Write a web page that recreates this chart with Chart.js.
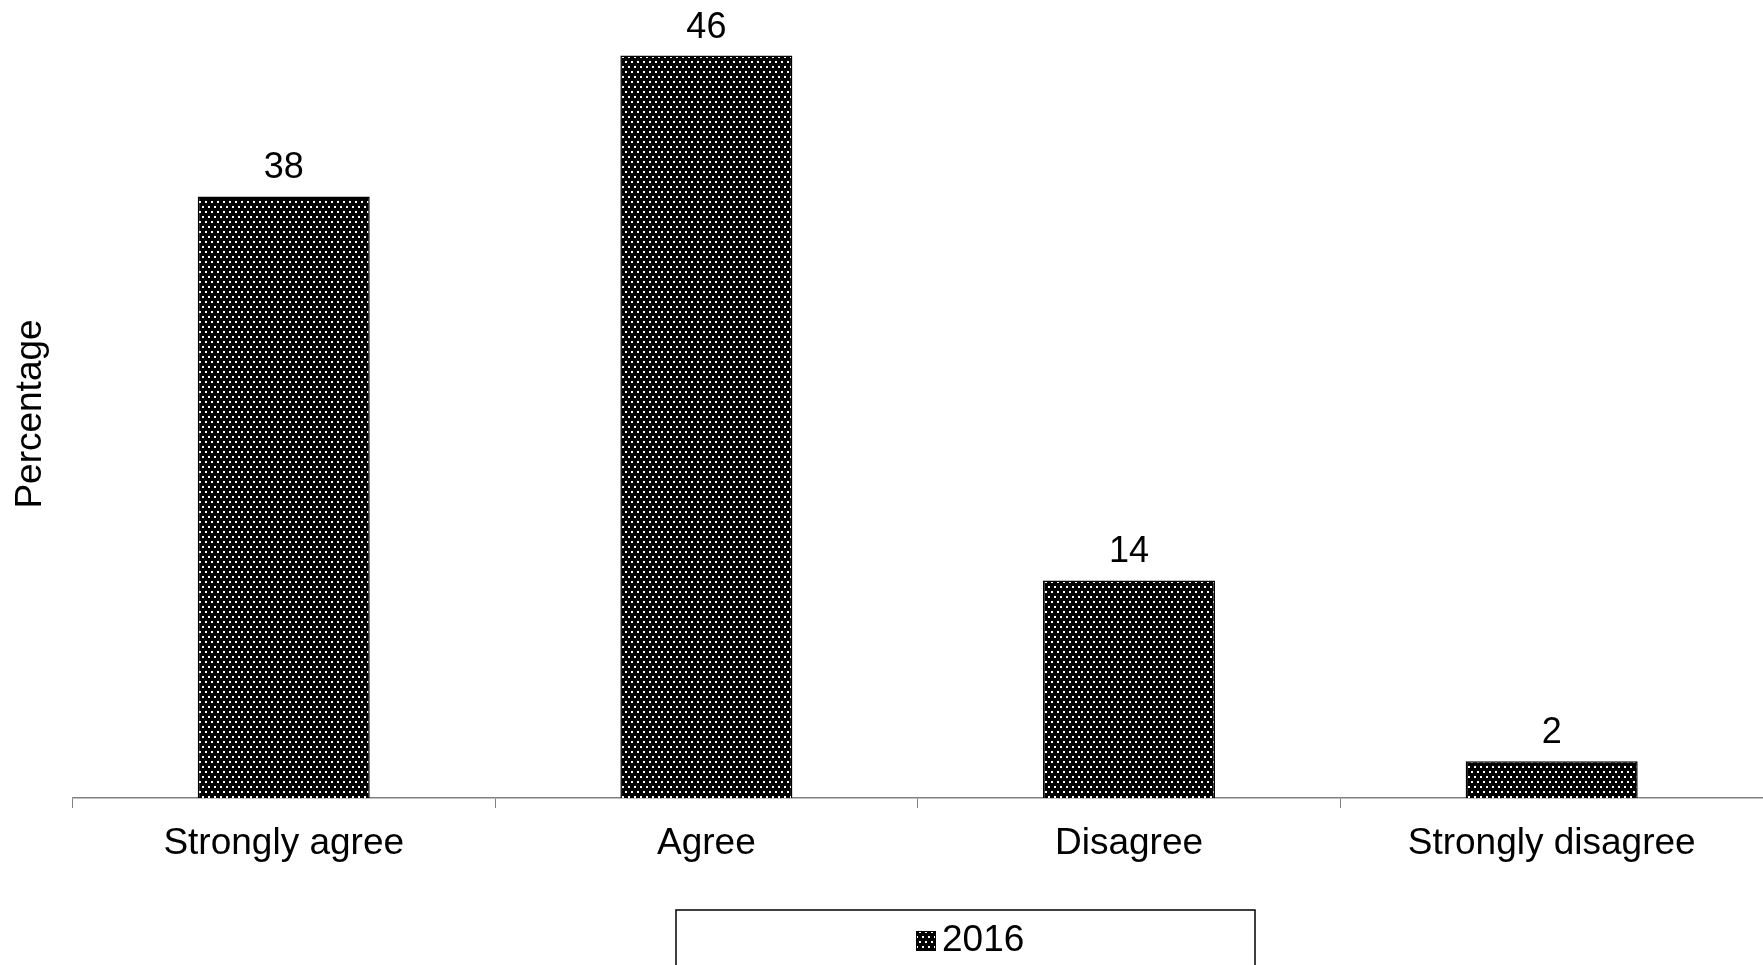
<!DOCTYPE html>
<html>
<head>
<meta charset="utf-8">
<script src="https://cdn.jsdelivr.net/npm/chart.js@4.4.0/dist/chart.umd.min.js"></script>
<style>
    html, body { margin: 0; padding: 0; background: #ffffff; }
    #wrap { width: 1763px; height: 965px; position: relative; }
</style>
</head>
<body>
<div id="wrap"><canvas id="chart"></canvas></div>
<script>
// Survey responses (percent), bar heights
const categories = ['Strongly agree', 'Agree', 'Disagree', 'Strongly disagree'];
const seriesName = '2016';
const values = [37.6, 46.4, 13.6, 2.3];
const axisTitle = 'Percentage';

const FONT = '"Liberation Sans", Arial, sans-serif';

// Black fill with small staggered white dots
function makeDotPattern() {
    const tile = document.createElement('canvas');
    tile.width = 6;
    tile.height = 10;
    const t = tile.getContext('2d');
    t.fillStyle = '#000000';
    t.fillRect(0, 0, 6, 10);
    t.fillStyle = '#ffffff';
    t.fillRect(1, 1, 2, 2);
    t.fillRect(4, 6, 2, 2);
    return t.createPattern(tile, 'repeat');
}

const dots = makeDotPattern();

// Rounded value labels above each bar
const valueLabels = {
    id: 'valueLabels',
    afterDatasetsDraw(chart) {
        const ctx = chart.ctx;
        const meta = chart.getDatasetMeta(0);
        ctx.save();
        ctx.font = '36px ' + FONT;
        ctx.fillStyle = '#000000';
        ctx.textAlign = 'center';
        ctx.textBaseline = 'middle';
        meta.data.forEach((bar, i) => {
            ctx.fillText(String(Math.round(values[i])), bar.x, bar.y - 28);
        });
        ctx.restore();
    }
};

// Legend drawn by hand: framed box under the axis
const boxedLegend = {
    id: 'boxedLegend',
    afterDraw(chart) {
        const ctx = chart.ctx;
        const ds = chart.data.datasets[0];
        ctx.save();
        ctx.strokeStyle = '#000000';
        ctx.lineWidth = 1.5;
        ctx.strokeRect(676, 910, 579, 80);

        ctx.fillStyle = ds.backgroundColor;
        ctx.fillRect(916, 931, 20, 20);
        ctx.lineWidth = 1;
        ctx.strokeRect(916.5, 931.5, 19, 19);

        ctx.font = '37px ' + FONT;
        ctx.fillStyle = '#000000';
        ctx.textAlign = 'left';
        ctx.textBaseline = 'middle';
        ctx.fillText(ds.label, 942, 941);
        ctx.restore();
    }
};

const ctx = document.getElementById('chart').getContext('2d');
const chart = new Chart(ctx, {
    type: 'bar',
    data: {
        labels: categories,
        datasets: [{
            label: seriesName,
            data: values,
            backgroundColor: dots,
            borderColor: '#000000',
            borderWidth: 1.5,
            categoryPercentage: 1,
            barPercentage: 0.407
        }]
    },
    options: {
        responsive: true,
        maintainAspectRatio: false,
        animation: false,
        layout: {
            padding: { top: 30, left: 9, right: 0, bottom: 56 }
        },
        plugins: {
            legend: { display: false },
            tooltip: { enabled: false }
        },
        scales: {
            x: {
                grid: {
                    offset: true,
                    drawOnChartArea: false,
                    drawTicks: true,
                    tickLength: 10,
                    color: '#808080'
                },
                border: { display: true, color: '#808080', width: 1.5 },
                ticks: {
                    font: { size: 37, family: FONT },
                    color: '#000000',
                    padding: 14,
                    maxRotation: 0
                },
                afterFit(scale) {
                    scale.height = 111;
                }
            },
            y: {
                min: 0,
                max: 48,
                grid: { display: false, drawTicks: false },
                border: { display: false },
                ticks: { display: false },
                title: {
                    display: true,
                    text: axisTitle,
                    font: { size: 37, family: FONT },
                    color: '#000000',
                    padding: { top: 0, bottom: 19 }
                }
            }
        }
    },
    plugins: [valueLabels, boxedLegend]
});
</script>
</body>
</html>
